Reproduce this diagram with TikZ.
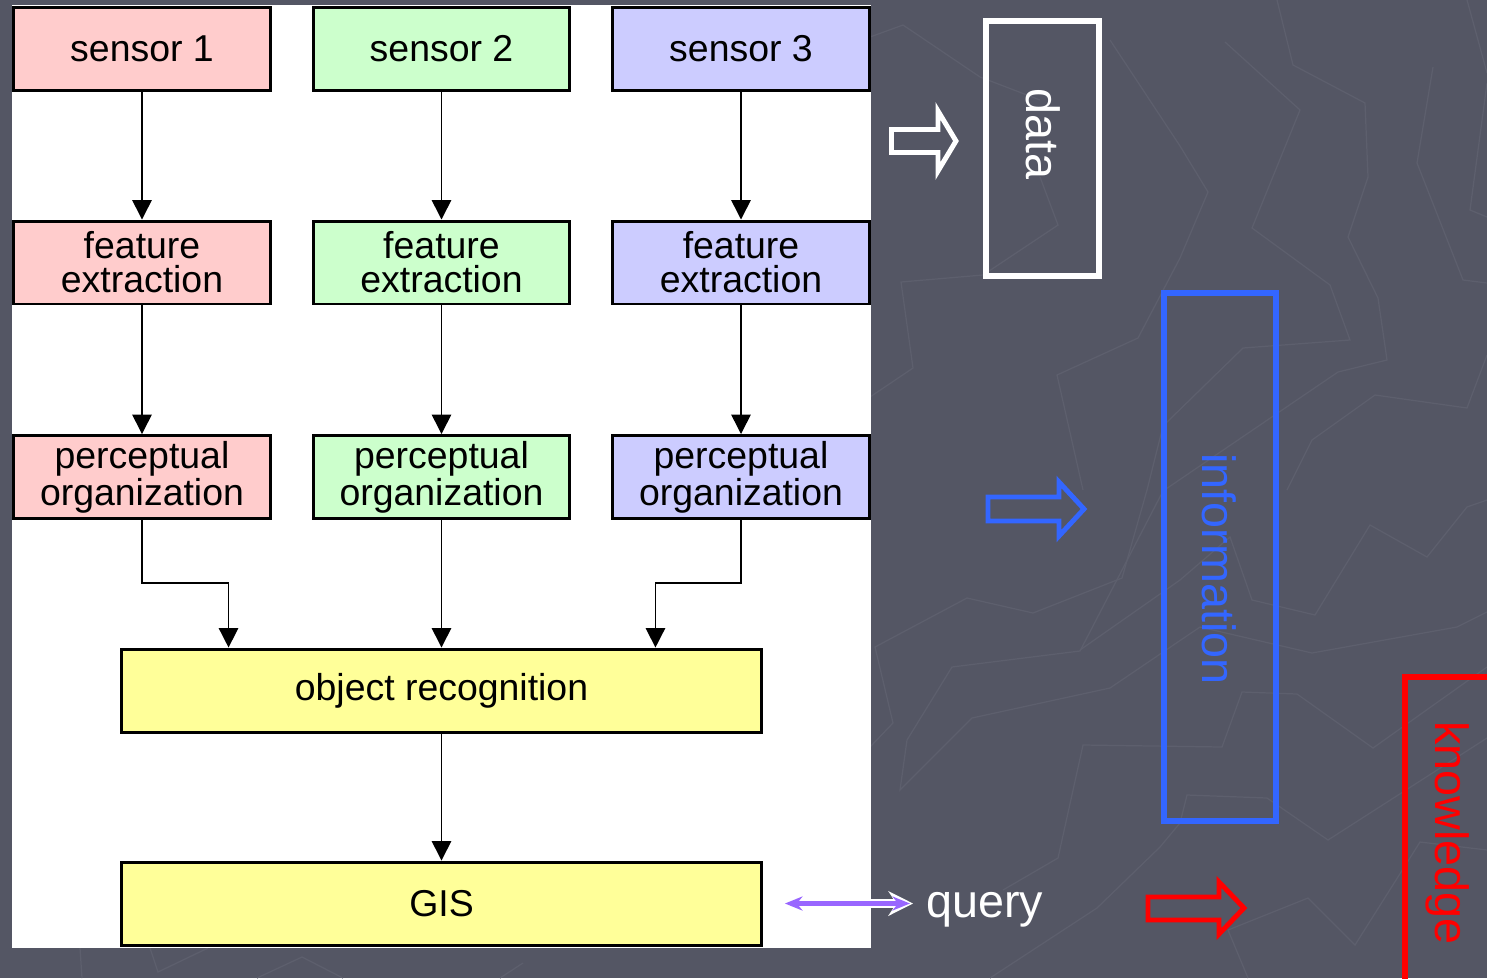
\documentclass[tikz,border=0pt]{standalone}
\usepackage{fontspec}
\setmainfont{Liberation Sans}
\usetikzlibrary{arrows.meta}

\definecolor{fondo}{RGB}{84,86,100}
\definecolor{trazo}{RGB}{93,95,109}
\definecolor{rosa}{HTML}{FFCCCC}
\definecolor{verde}{HTML}{CCFFCC}
\definecolor{lila}{HTML}{CCCCFF}
\definecolor{amarillo}{HTML}{FFFF99}
\definecolor{azul}{HTML}{3366FF}
\definecolor{rojo}{HTML}{FF0000}
\definecolor{violeta}{HTML}{9966FF}

\begin{document}
\begin{tikzpicture}[x=0.02cm,y=-0.02cm,
    caja/.style={rectangle,draw,line width=1.7pt,minimum width=5.14cm,minimum height=1.66cm,
      inner sep=0pt,align=center,font=\fontsize{21.3}{19.5}\selectfont},
    ancha/.style={caja,minimum width=12.8cm,fill=amarillo},
    flecha/.style={line width=0.85pt,-{Triangle[width=11pt,length=11pt]}},
    marco/.style={line width=3.4pt},
    bloque/.style={line width=2.8pt,line join=miter},
    etiqueta/.style={rotate=-90,inner sep=0pt,font=\fontsize{26.6}{30}\selectfont},
    lineafondo/.style={trazo,line width=0.7pt}]

			% Fondo
			\clip (0,0) rectangle (1487,978);
			\fill[fondo] (0,0) rectangle (1487,978);
			\draw[lineafondo] (870,37) -- (903,25) -- (980,77) -- (1040,100);
			\draw[lineafondo] (870,397) -- (913,368) -- (901,282) -- (983,275) -- (1058,225) -- (1040,177);
			\draw[lineafondo] (1083,490) -- (1057,375) -- (1138,338) -- (1180,258) -- (1208,192) -- (1180,146) -- (1110,40);
			\draw[lineafondo] (1225,42) -- (1300,110) -- (1252,228) -- (1330,285) -- (1350,340) -- (1243,348) -- (1163,426)
				-- (1147,490) -- (1122,578) -- (1033,613) -- (967,598) -- (875,647) -- (893,723) -- (870,747);
			\draw[lineafondo] (1277,0) -- (1293,65) -- (1365,103) -- (1368,177) -- (1348,237) -- (1378,298) -- (1387,360)
				-- (1338,372) -- (1163,491) -- (1080,651) -- (952,667) -- (907,740) -- (900,790) -- (972,718)
				-- (1110,688) -- (1200,627) -- (1312,653) -- (1457,627) -- (1487,612);
			\draw[lineafondo] (1433,67) -- (1417,163) -- (1463,280) -- (1487,283);
			\draw[lineafondo] (1467,0) -- (1487,73);
			\draw[lineafondo] (1487,83) -- (1470,210) -- (1487,217);
			\draw[lineafondo] (1487,355) -- (1467,408) -- (1375,395) -- (1312,440) -- (1287,490);
			\draw[lineafondo] (1080,650) -- (1180,580) -- (1230,537) -- (1252,600) -- (1315,615) -- (1370,525)
				-- (1427,557) -- (1467,507) -- (1487,500);
			\draw[lineafondo] (1003,890) -- (1058,858) -- (1083,745) -- (1222,747) -- (1242,692) -- (1297,694) -- (1373,748) -- (1487,667);
			\draw[lineafondo] (990,978) -- (1097,908) -- (1160,847) -- (1180,823) -- (1187,795) -- (1267,798) -- (1328,840) -- (1487,738);
			\draw[lineafondo] (1248,978) -- (1228,930) -- (1308,898) -- (1355,945) -- (1420,842) -- (1487,850);
			\draw[lineafondo] (150,948) -- (158,972) -- (208,948);
			\draw[lineafondo] (80,948) -- (82,978);
			\draw[lineafondo] (257,978) -- (302,957) -- (343,978);
			\draw[lineafondo] (500,978) -- (523,963);

			% Panel blanco
			\fill[white] (12,5) rectangle (871,948);

			% Nodos
			\node at (142,49) [caja,fill=rosa] (s1) {sensor 1};
			\node at (441.5,49) [caja,fill=verde] (s2) {sensor 2};
			\node at (741,49) [caja,fill=lila] (s3) {sensor 3};

			\node at (142,262.5) [caja,fill=rosa] (f1) {feature\\extraction};
			\node at (441.5,262.5) [caja,fill=verde] (f2) {feature\\extraction};
			\node at (741,262.5) [caja,fill=lila] (f3) {feature\\extraction};

			\node at (142,477) [caja,fill=rosa] (p1) {perceptual\\organization};
			\node at (441.5,477) [caja,fill=verde] (p2) {perceptual\\organization};
			\node at (741,477) [caja,fill=lila] (p3) {perceptual\\organization};

			\node at (441.5,690.5) [ancha] (obj) {object recognition};
			\node at (441.5,903.5) [ancha] (gis) {GIS};

			% Flechas
			\draw[flecha] (s1) -- (f1);
			\draw[flecha] (s2) -- (f2);
			\draw[flecha] (s3) -- (f3);
			\draw[flecha] (f1) -- (p1);
			\draw[flecha] (f2) -- (p2);
			\draw[flecha] (f3) -- (p3);
			\draw[flecha] (p1.south) -- ++(0,63) -| ([xshift=-4.26cm]obj.north);
			\draw[flecha] (p2) -- (obj);
			\draw[flecha] (p3.south) -- ++(0,63) -| ([xshift=4.28cm]obj.north);
			\draw[flecha] (obj) -- (gis);

			% Consulta
			\node at (926,917) [anchor=base west,inner sep=0pt,text=white,font=\fontsize{26.6}{30}\selectfont] (q) {query};
			\draw[white,line width=4.6pt,{Stealth[length=13pt,width=13pt]}-{Stealth[length=14pt,width=14pt]},
				shorten <=0.4cm,shorten >=0.26cm] (gis.east) -- (gis.east -| q.west);
			\draw[violeta,line width=2.3pt,{Stealth[length=10pt,width=8pt]}-{Stealth[length=10pt,width=8pt]},
				shorten <=0.44cm,shorten >=0.32cm] (gis.east) -- (gis.east -| q.west);

			% Datos
			\draw[bloque,white] (891.5,129.5) -- (938,129.5) -- (938,111) -- (956,141) -- (938,171) -- (938,152.5) -- (891.5,152.5) -- cycle;
			\draw[marco,white] (986,21) rectangle (1099,276);
			\node at (1043,134) [etiqueta,text=white] (tdata) {data};

			% Informacion
			\draw[bloque,azul] (988,497) -- (1059,497) -- (1059,482) -- (1084,509) -- (1059,536) -- (1059,521) -- (988,521) -- cycle;
			\draw[marco,azul] (1164,293) rectangle (1276,821);
			\node at (1219,569) [etiqueta,text=azul] (tinfo) {information};

			% Conocimiento
			\draw[bloque,rojo] (1148,897) -- (1219,897) -- (1219,882) -- (1244,908) -- (1219,934) -- (1219,920) -- (1148,920) -- cycle;
			\draw[marco,rojo] (1405,677) rectangle (1520,1000);
			\node at (1448,833) [etiqueta,text=rojo] (tknow) {knowledge};
		\end{tikzpicture}
\end{document}
